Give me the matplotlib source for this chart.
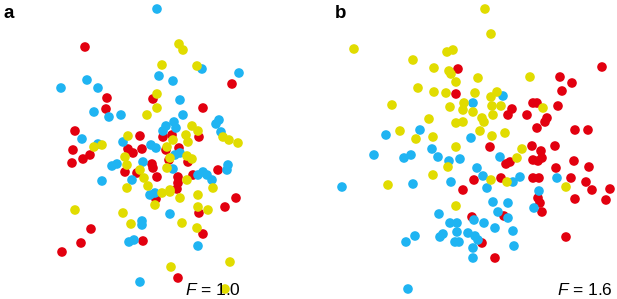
import matplotlib
matplotlib.use("Agg")
import matplotlib.pyplot as plt

# Panel a (F = 1.0): positions
a_blue_x = [157,87,61,98,94,109,121,82,98,123,159,173,202,239,180,183,219,216,221,166,163,174,176,151,156,175,180,173,228,227,203,207,198,212,112,117,102,132,143,150,155,142,142,129,134,198,140,170]
a_blue_y = [9,80,88,88,112,117,115,139,144,142,76,81,69,73,100,115,120,124,132,126,131,122,128,145,148,155,153,169,165,170,172,175,175,180,166,164,181,180,162,195,193,221,225,242,240,246,282,214]
a_red_x = [85,107,106,153,75,140,73,128,142,232,203,163,172,199,179,133,166,152,153,169,125,137,157,156,188,218,193,178,178,177,236,225,199,203,143,178,72,83,90,91,81,62]
a_red_y = [47,98,109,99,131,136,150,149,149,84,108,137,135,137,148,153,150,164,168,160,172,173,177,199,162,170,175,177,183,189,198,207,213,234,241,278,163,159,155,229,243,252]
a_yel_x = [157,147,128,94,179,183,162,197,157,192,198,186,188,223,229,238,173,167,102,125,170,127,140,144,148,127,162,170,155,123,187,192,167,187,170,213,198,180,198,208,75,131,182,197,230,171,225]
a_yel_y = [94,115,136,147,44,50,65,66,108,126,131,135,142,137,140,143,140,147,145,157,158,165,170,178,186,188,193,192,205,213,156,159,168,180,190,188,195,198,207,210,210,224,223,228,262,267,289]

# Panel b (F = 1.6)
b_blue_x = [473,503,420,386,471,432,374,404,411,438,449,460,477,342,413,451,439,450,457,474,415,406,443,440,457,468,455,459,475,478,473,473,408,500,483,513,520,557,487,539,534,493,508,498,508,484,495,513,514]
b_blue_y = [103,96,130,135,138,149,155,158,155,157,161,159,168,187,184,182,214,223,223,220,236,242,234,237,232,233,242,242,236,240,248,258,289,157,176,182,177,178,188,191,208,202,203,212,218,223,228,231,246]
b_red_x = [458,456,560,572,562,602,512,508,533,537,558,527,547,545,537,575,588,490,532,555,541,542,533,538,506,510,574,589,556,474,463,501,533,539,571,586,592,610,575,606,538,540,542,504,472,482,566,495]
b_red_y = [69,94,77,83,91,67,109,115,103,103,106,115,118,122,128,130,130,147,146,146,151,158,160,161,164,162,161,167,168,180,190,178,178,178,178,182,190,189,199,200,198,203,212,216,217,243,237,258]
b_yel_x = [354,413,447,453,434,449,451,456,418,434,446,392,450,464,463,429,456,463,400,416,433,456,485,491,478,530,475,497,491,492,501,473,543,482,484,493,480,492,505,522,517,448,433,388,456,491,507,566]
b_yel_y = [49,60,52,50,68,71,74,82,88,92,93,105,107,103,110,119,123,122,131,139,137,147,9,34,78,77,93,92,97,106,106,112,108,118,122,115,131,136,133,149,158,167,175,185,206,180,182,187]

panel_labels = ["a", "b"]
f_labels = ["1.0", "1.6"]

BLUE = "#1FB4F2"
RED = "#E2000F"
YEL = "#E1DC00"

plt.rcParams['mathtext.fontset'] = 'custom'
plt.rcParams['mathtext.it'] = 'Liberation Sans:italic'
plt.rcParams['mathtext.rm'] = 'Liberation Sans'

fig = plt.figure(figsize=(6.17, 2.99), dpi=100)
ax = fig.add_axes([0, 0, 1, 1])
ax.set_xlim(0, 617)
ax.set_ylim(299, 0)
ax.axis("off")

s = 48
for xs, ys, c in [(a_red_x, a_red_y, RED), (a_blue_x, a_blue_y, BLUE), (a_yel_x, a_yel_y, YEL),
                  (b_red_x, b_red_y, RED), (b_blue_x, b_blue_y, BLUE), (b_yel_x, b_yel_y, YEL)]:
    ax.scatter(xs, ys, s=s, c=c, edgecolors="none", zorder=2)

ax.text(4, 13, panel_labels[0], fontsize=13.5, fontweight="bold", family="Liberation Sans", va="center", ha="left")
ax.text(335, 13, panel_labels[1], fontsize=13.5, fontweight="bold", family="Liberation Sans", va="center", ha="left")

ax.text(241, 290, "$F$ = " + f_labels[0], fontsize=12.5, family="Liberation Sans", va="center", ha="right", zorder=3)
ax.text(613, 290, "$F$ = " + f_labels[1], fontsize=12.5, family="Liberation Sans", va="center", ha="right", zorder=3)

fig.savefig("out.png", dpi=100)
